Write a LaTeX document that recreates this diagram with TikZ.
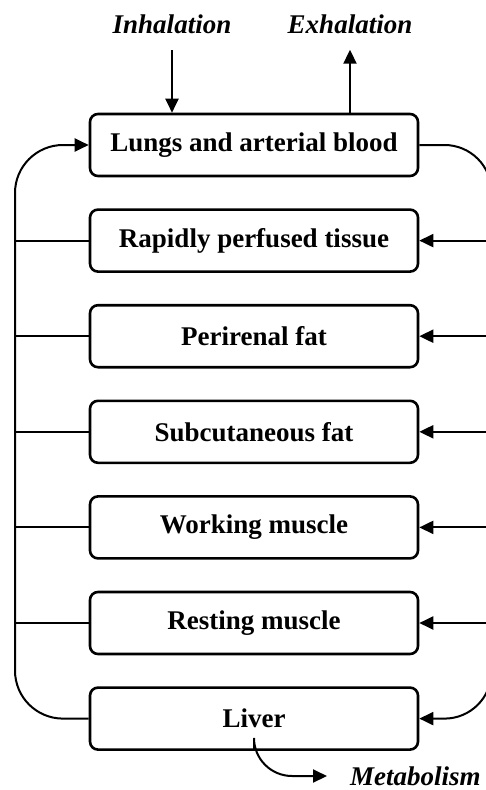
\documentclass[tikz,border=0pt]{standalone}
\usepackage{fontspec}
\setmainfont{Liberation Serif}
\usetikzlibrary{positioning, arrows.meta}

\begin{document}
\begin{tikzpicture}[x=1pt, y=-1pt,
    compartment/.style={draw, line width=2.6pt, rounded corners=8pt,
      minimum width=328pt, minimum height=62pt,
      font=\bfseries\fontsize{27}{32}\selectfont},
    flow/.style={line width=2pt},
    arrow/.style={flow, -{Triangle[length=14pt, width=13pt]}},
    route/.style={font=\bfseries\itshape\fontsize{27}{32}\selectfont}]
  \useasboundingbox (0,0) rectangle (486,790);

  % compartments
  \node[compartment] (lungs) at (254,145) {Lungs and arterial blood};
  \node[compartment, below=31pt of lungs] (rapid) {Rapidly perfused tissue};
  \node[compartment, below=31pt of rapid] (perirenal) {Perirenal fat};
  \node[compartment, below=31pt of perirenal] (subcut) {Subcutaneous fat};
  \node[compartment, below=31pt of subcut] (working) {Working muscle};
  \node[compartment, below=31pt of working] (resting) {Resting muscle};
  \node[compartment, below=31pt of resting] (liver) {Liver};

  % labels
  \node[route] (inh) at (172,24) {Inhalation};
  \node[route] (exh) at (350,24) {Exhalation};
  \node[route, anchor=west, inner sep=0pt] (met) at (350,776) {Metabolism};

  \coordinate (busL) at (15,0);
  \coordinate (busR) at (491.5,0);

  % gas exchange
  \draw[arrow] (172,50) -- (lungs.north -| 172,0);
  \draw[arrow] (lungs.north -| exh) -- ++(0,-63);

  % venous return
  \draw[arrow, rounded corners=48pt]
    (liver.west) -| (busL |- subcut.west) |- (lungs.west);
  \foreach \n in {rapid, perirenal, subcut, working, resting}
    \draw[flow] (\n.west -| busL) -- (\n.west);

  % arterial supply
  \draw[arrow, rounded corners=47pt]
    (lungs.east) -| (busR |- subcut.east) |- (liver.east);
  \foreach \n in {rapid, perirenal, subcut, working, resting}
    \draw[arrow] (\n.east -| busR) -- (\n.east);

  % metabolism
  \draw[arrow, rounded corners=38pt] (liver.south) |- ([xshift=-23pt]met.west);
\end{tikzpicture}
\end{document}
